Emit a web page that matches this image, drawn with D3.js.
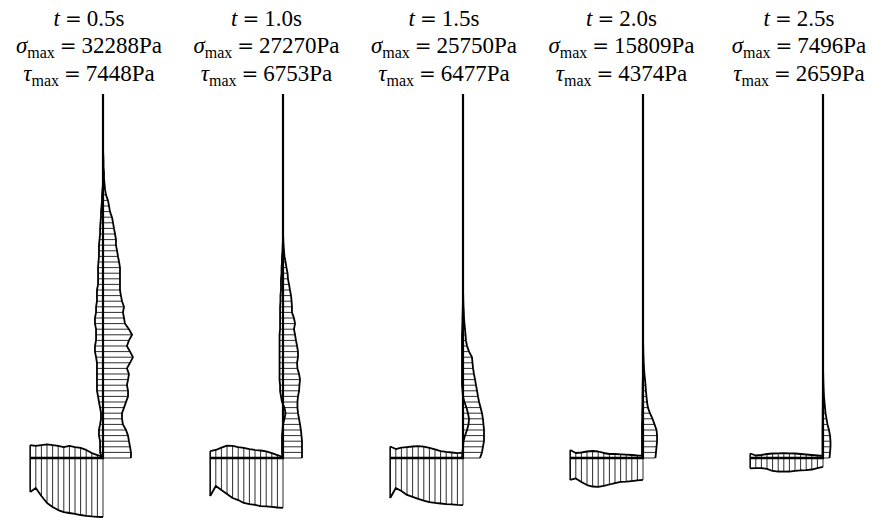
<!DOCTYPE html>
<html><head><meta charset="utf-8">
<script src="https://cdn.jsdelivr.net/npm/d3@7"></script>
<style>html,body{margin:0;padding:0;background:#fff;} svg{display:block;}</style>
</head><body>
<svg id="chart" width="874" height="518"></svg>
<script>
// ---- data ----
const times = ["0.5", "1.0", "1.5", "2.0", "2.5"];
const sigmaMax = [32288, 27270, 25750, 15809, 7496];
const tauMax = [7448, 6753, 6477, 4374, 2659];

// positions along the wall (m above the floor) and along the floor (m from the wall)
const wallZ = [0,0.05,0.1,0.15,0.2,0.25,0.3,0.35,0.4,0.45,0.5,0.55,0.6,0.65,0.7,0.75,0.8,0.85,0.9,0.95,
  1,1.05,1.1,1.15,1.2,1.25,1.3,1.35,1.4,1.45,1.5,1.55,1.6,1.65,1.7,1.75,1.8,1.85,1.9,1.95,
  2,2.05,2.1,2.15,2.2,2.25,2.3,2.35,2.4,2.45,2.5,2.55,2.6,2.65,2.7,2.75];
const floorS = [0,0.05,0.1,0.15,0.2,0.25,0.3,0.35,0.4,0.45,0.5,0.55,0.6,0.65];
const wallHeight = 3.25, floorLength = 0.65;

// stresses (Pa)
const wallSigma05 = [15300,15300,14800,14200,13700,12600,10900,10400,10400,11500,
  12600,13700,13700,13100,13700,14200,13100,14800,16400,14800,
  13100,14200,15900,14200,12000,11500,10900,11500,10400,9800,
  9300,9300,9300,9300,9300,8800,8200,7700,7100,7100,
  6600,6000,5500,4900,3800,3300,2700,1600,1100,800,
  550,550,270,270,160,0];
const wallTau05 = [550,1600,1600,1600,2200,2200,1600,1100,1100,1600,
  2200,2700,3300,3300,3300,3300,3300,3300,3800,4400,
  4400,3800,3800,3800,4400,4400,3800,3800,3300,3300,
  3300,2700,2700,2700,2700,2500,2200,2200,2200,1900,
  1600,1600,1400,1100,1100,800,550,550,270,0];
const floorSigma05 = [32288,32200,32000,31700,31200,30600,30100,29600,28500,26800,24600,20800,16400,18600];
const floorTau05 = [550,1600,2700,4400,5500,6000,6600,6000,6600,7100,7448,7100,6600,7100];

const wallSigma10 = [10400,10400,10400,10400,10100,9800,9300,8800,8200,7900,
  7900,8200,8800,9000,9300,8800,7900,7700,8200,8200,
  7700,7100,6600,6000,6600,6000,4900,4900,4700,4400,
  3800,3300,2700,2500,1900,1400,800,550,270,160,0];
const wallTau10 = [270,550,550,550,550,270,0,-800,-1400,-800,
  550,1100,1600,1600,1900,1900,1900,1900,1900,1900,
  1900,1900,1900,1600,1600,1600,1600,1600,1400,1400,
  1100,1100,1100,800,800,550,550,270,160,0];
const floorSigma10 = [27270,27100,26800,26500,26300,25700,25200,24600,23000,21900,19700,17500,15300,20800];
const floorTau10 = [550,1600,2700,3600,4100,4400,4900,5500,6000,6600,6753,5700,4400,3800];

const wallSigma15 = [9300,10400,10900,11500,11500,11500,11200,10900,10400,9600,
  8800,8200,7700,7100,6600,6000,5500,5200,4900,3300,
  2200,1600,1400,1100,800,550,440,270,160,110,0];
const wallTau15 = [550,270,0,-270,-1100,-2200,-3000,-3300,-2700,-1900,
  -800,0,270,550,550,550,550,550,550,550,
  550,550,550,440,330,270,160,110,0];
const floorSigma15 = [25750,25700,25400,25200,24900,24600,24100,23300,22400,21300,20200,18100,16400,21900];
const floorTau15 = [2900,2700,3000,3300,3800,4700,5500,6200,6477,6300,6000,5700,4900,6300];

const wallSigma20 = [6800,7100,7400,7700,7700,7400,6300,5200,3800,2700,
  2200,1900,1600,1400,1100,800,550,380,270,160,110,0];
const wallTau20 = [550,550,550,550,550,550,550,440,440,330,270,270,220,160,110,0];
const floorSigma20 = [12000,12300,12600,12900,13100,13700,14500,15300,15809,15600,14800,13100,11200,12000];
const floorTau20 = [1260,1370,1640,1810,2020,2190,2190,2740,3560,3830,3560,3010,2740,4374];

const wallSigma25 = [3560,3830,4100,4100,3830,3280,2460,1920,1370,1100,820,550,380,270,160,110,0];
const wallTau25 = [270,270,270,270,270,270,220,160,160,110,110,55,0];
const floorSigma25 = [4900,5500,6300,6600,6800,7100,7400,7496,7400,7100,6000,5500,5500,5700];
const floorTau25 = [1100,1370,1640,1920,2190,2460,2570,2659,2570,2460,2190,1640,1370,2460];

const wallSigmas = [wallSigma05, wallSigma10, wallSigma15, wallSigma20, wallSigma25];
const wallTaus = [wallTau05, wallTau10, wallTau15, wallTau20, wallTau25];
const floorSigmas = [floorSigma05, floorSigma10, floorSigma15, floorSigma20, floorSigma25];
const floorTaus = [floorTau05, floorTau10, floorTau15, floorTau20, floorTau25];

// ---- drawing ----
const svg = d3.select("#chart");
const floorY = 458;
const zScale = d3.scaleLinear().domain([0, wallHeight]).range([floorY, 94]);
const pxPerM = (floorY - 94) / wallHeight;
const sScale = d3.scaleLinear().domain([0, 32288]).range([0, 59]);
const panelX = d3.scalePoint().domain(times).range([103, 823]);
const titleX = d3.scalePoint().domain(times).range([89, 799]);

const hatchColor = "#222", hatchW = 0.95;
const outlineW = 1.8;
const fontFam = "'Liberation Serif', 'Times New Roman', serif";
const eqFam = "'DejaVu Serif', serif";
const fs = "23px", subFs = "16px", eqFs = "20px", gap = 5;

function addEq(text) {
  return text.append("tspan").style("font-family", eqFam).style("font-size", eqFs).attr("dx", gap).text("=");
}

times.forEach((t, p) => {
  const wx = panelX(t);
  const g = svg.append("g");
  const fScale = d3.scaleLinear().domain([0, floorLength]).range([wx, wx - floorLength * pxPerM]);
  const sig = wallSigmas[p], tau = wallTaus[p];
  const n = Math.max(sig.length, tau.length);
  const wallPts = d3.range(n).map(i => ({ z: wallZ[i], s: sig[i] ?? 0, t: tau[i] ?? 0 }));

  // wall hatching (horizontal)
  g.selectAll("line.wh").data(wallPts).join("line")
    .attr("x1", d => Math.min(wx, wx - sScale(d.t)))
    .attr("x2", d => Math.max(wx, wx + sScale(d.s)))
    .attr("y1", d => zScale(d.z)).attr("y2", d => zScale(d.z))
    .attr("stroke", hatchColor).attr("stroke-width", hatchW);

  // floor hatching (vertical)
  const fPts = floorS.map((x, j) => ({ x, s: floorSigmas[p][j], t: floorTaus[p][j] }));
  g.selectAll("line.fh").data(fPts).join("line")
    .attr("x1", d => fScale(d.x)).attr("x2", d => fScale(d.x))
    .attr("y1", d => floorY - sScale(d.t))
    .attr("y2", d => floorY + sScale(d.s))
    .attr("stroke", hatchColor).attr("stroke-width", hatchW);

  const outline = (sel, pts, fx, fy) => sel.append("path")
    .attr("d", d3.line().x(fx).y(fy)(pts))
    .attr("fill", "none").attr("stroke", "#000").attr("stroke-width", outlineW)
    .attr("stroke-linejoin", "round");

  // wall outlines
  outline(g, sig.map((s, i) => ({ z: wallZ[i], s })), d => wx + sScale(d.s), d => zScale(d.z));
  outline(g, tau.map((s, i) => ({ z: wallZ[i], s })), d => wx - sScale(d.s), d => zScale(d.z));
  // floor outlines
  outline(g, fPts, d => fScale(d.x), d => floorY + sScale(d.s));
  outline(g, fPts, d => fScale(d.x), d => floorY - sScale(d.t));
  // floor left edge
  const last = fPts[fPts.length - 1];
  g.append("line")
    .attr("x1", fScale(last.x)).attr("x2", fScale(last.x))
    .attr("y1", floorY - sScale(last.t)).attr("y2", floorY + sScale(last.s))
    .attr("stroke", "#000").attr("stroke-width", 1.3);

  // wall and floor
  g.append("line").attr("x1", wx).attr("x2", wx)
    .attr("y1", zScale(wallHeight)).attr("y2", floorY + 1)
    .attr("stroke", "#000").attr("stroke-width", 2.2);
  g.append("line").attr("x1", fScale(floorLength)).attr("x2", wx + 1)
    .attr("y1", floorY).attr("y2", floorY)
    .attr("stroke", "#000").attr("stroke-width", 2.4);

  // titles
  const cx = titleX(t);
  const l1 = svg.append("text").attr("x", cx).attr("y", 26).attr("text-anchor", "middle")
    .style("font-family", fontFam).style("font-size", fs);
  l1.append("tspan").style("font-style", "italic").text("t");
  addEq(l1);
  l1.append("tspan").attr("dx", gap).text(t + "s");

  const l2 = svg.append("text").attr("x", cx).attr("y", 53).attr("text-anchor", "middle")
    .style("font-family", fontFam).style("font-size", fs);
  l2.append("tspan").style("font-style", "italic").text("σ");
  l2.append("tspan").attr("dy", 5).style("font-size", subFs).text("max");
  addEq(l2).attr("dy", -5);
  l2.append("tspan").attr("dx", gap).text(sigmaMax[p] + "Pa");

  const l3 = svg.append("text").attr("x", cx).attr("y", 81).attr("text-anchor", "middle")
    .style("font-family", fontFam).style("font-size", fs);
  l3.append("tspan").style("font-style", "italic").text("τ");
  l3.append("tspan").attr("dy", 5).style("font-size", subFs).text("max");
  addEq(l3).attr("dy", -5);
  l3.append("tspan").attr("dx", gap).text(tauMax[p] + "Pa");
});
</script>
</body></html>
